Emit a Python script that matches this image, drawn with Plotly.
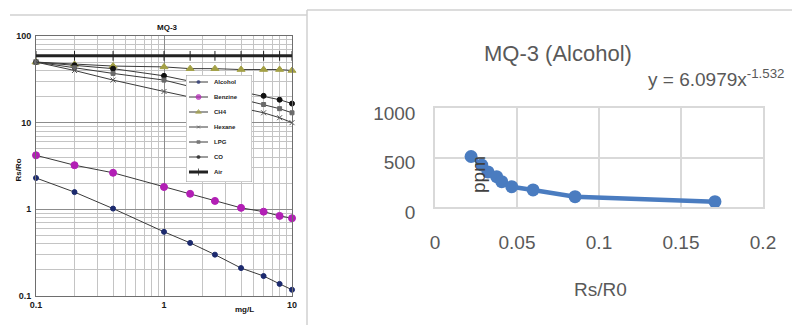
import plotly.graph_objects as go

W, H = 792, 325

# ---------------- data: left panel (MQ-3 datasheet sensitivity curves) ----------------
conc = [0.1, 0.2, 0.4, 1, 1.6, 2.5, 4, 6, 8, 10]
alcohol = [2.3, 1.58, 1.02, 0.55, 0.41, 0.30, 0.21, 0.17, 0.138, 0.118]
benzine = [4.2, 3.23, 2.64, 1.81, 1.51, 1.25, 1.04, 0.94, 0.84, 0.79]
ch4 = [50, 47, 45, 44, 42, 42, 41, 41, 41, 40]
air = [59, 59, 59, 59, 59, 59, 59, 59, 59, 59]
conc_sparse = [0.1, 0.2, 0.4, 1, 6, 8, 10]
co = [50, 46, 42, 34.7, 20.4, 18.4, 16.6]
lpg = [50, 43, 37, 31, 16.2, 14.5, 13]
hexane = [50, 40, 31, 22.9, 13, 11.4, 10]
left_yticks = [0.1, 1, 10, 100]
left_yticklabels = ["0.1", "1", "10", "100"]
left_xticks = [0.1, 1, 10]
left_xticklabels = ["0.1", "1", "10"]

# ---------------- data: right panel (Excel chart) ----------------
rs_ro = [0.022, 0.0285, 0.0323, 0.0376, 0.0407, 0.0468, 0.0598, 0.0854, 0.1707]
ppm = [510, 424, 354, 306, 256, 205, 172, 104, 54]
right_xticks = [0, 0.05, 0.1, 0.15, 0.2]
right_xticklabels = ["0", "0.05", "0.1", "0.15", "0.2"]
right_yticks = [0, 500, 1000]
right_yticklabels = ["0", "500", "1000"]

legend_names = ["Alcohol", "Benzine", "CH4", "Hexane", "LPG", "CO", "Air"]


def px(x):
    return x / W


def py(y):
    return 1 - y / H


LINE = "#3a3a3a"
styles = {
    "Alcohol": dict(symbol="circle", size=5, color="#1c2a6e", lw=1),
    "Benzine": dict(symbol="circle", size=7, color="#b21fb5", lw=1),
    "CH4": dict(symbol="triangle-up", size=7, color="#a3a045", lw=1),
    "Hexane": dict(symbol="x-thin-open", size=5, color="#555555", lw=1),
    "LPG": dict(symbol="square", size=4, color="#6a6a6a", lw=1),
    "CO": dict(symbol="circle", size=5, color="#111111", lw=1),
    "Air": dict(symbol="line-ns-open", size=7, color="#222222", lw=3),
}

series = [
    ("Air", conc, air),
    ("CH4", conc, ch4),
    ("CO", conc_sparse, co),
    ("LPG", conc_sparse, lpg),
    ("Hexane", conc_sparse, hexane),
    ("Benzine", conc, benzine),
    ("Alcohol", conc, alcohol),
]

fig = go.Figure()

for name, xs, ys in series:
    st = styles[name]
    fig.add_trace(go.Scatter(
        x=xs, y=ys, mode="lines+markers", name=name, showlegend=False,
        line=dict(color=LINE if name != "Air" else st["color"], width=st["lw"]),
        marker=dict(symbol=st["symbol"], size=st["size"], color=st["color"],
                    line=dict(color=st["color"], width=1)),
        xaxis="x", yaxis="y", cliponaxis=False,
    ))

# manual compact legend (box + samples) on its own small axes
fig.add_trace(go.Scatter(
    x=[0, 66, 66, 0, 0], y=[0, 0, 107, 107, 0], mode="lines", fill="toself",
    fillcolor="white", line=dict(color="#9a9a9a", width=1), showlegend=False,
    hoverinfo="skip", xaxis="x3", yaxis="y3",
))
for i, name in enumerate(legend_names):
    st = styles[name]
    yy = 7 + 15 * i
    fig.add_trace(go.Scatter(
        x=[3, 12.5, 22], y=[yy, yy, yy], mode="lines+markers", showlegend=False,
        line=dict(color=LINE if name != "Air" else st["color"], width=st["lw"]),
        marker=dict(symbol=st["symbol"], size=[0, max(st["size"] - 2, 3), 0], color=st["color"],
                    line=dict(color=st["color"], width=1)),
        hoverinfo="skip", xaxis="x3", yaxis="y3",
    ))

# right panel data
BLUE = "#4a7cc0"
fig.add_trace(go.Scatter(
    x=rs_ro, y=ppm, mode="lines+markers", showlegend=False,
    line=dict(color=BLUE, width=4.5),
    marker=dict(size=13, color=BLUE),
    xaxis="x2", yaxis="y2", cliponaxis=False,
))

left_font = dict(family="Liberation Sans", size=9, color="#1a1a1a", weight="bold")
right_font = dict(family="Liberation Sans", size=19, color="#595959")

minor_vals = [m * d for d in (0.1, 1, 10) for m in range(2, 10)]

fig.update_layout(
    width=W, height=H,
    margin=dict(l=0, r=0, t=0, b=0, pad=0, autoexpand=False),
    paper_bgcolor="white", plot_bgcolor="white",
    showlegend=False,
    xaxis=dict(
        type="log", range=[-1, 1], domain=[px(36), px(292)], anchor="y",
        tickvals=left_xticks, ticktext=left_xticklabels, tickfont=left_font,
        showgrid=True, gridcolor="#8c8c8c", gridwidth=1,
        showline=True, linecolor="#6e6e6e", linewidth=1, mirror=True,
        ticks="", zeroline=False, automargin=False,
        minor=dict(tickvals=minor_vals, showgrid=True, gridcolor="#c4c4c4", gridwidth=1, ticks=""),
    ),
    yaxis=dict(
        type="log", range=[-1, 2], domain=[py(296), py(36)], anchor="x",
        tickvals=left_yticks, ticktext=left_yticklabels, tickfont=left_font,
        showgrid=True, gridcolor="#8c8c8c", gridwidth=1,
        showline=True, linecolor="#6e6e6e", linewidth=1, mirror=True,
        ticks="", zeroline=False, ticklabelstandoff=2, automargin=False,
        minor=dict(tickvals=minor_vals, showgrid=True, gridcolor="#c4c4c4", gridwidth=1, ticks=""),
    ),
    xaxis2=dict(
        range=[0, 0.2], domain=[px(435), px(763)], anchor="y2",
        tickvals=right_xticks, ticktext=right_xticklabels, tickfont=right_font,
        showgrid=True, gridcolor="#d9d9d9", gridwidth=1.5,
        showline=True, linecolor="#d9d9d9", linewidth=1.5, mirror=True,
        ticks="", zeroline=False, ticklabelstandoff=17, automargin=False,
    ),
    yaxis2=dict(
        range=[0, 1000], domain=[py(207), py(108)], anchor="x2",
        tickvals=right_yticks, ticktext=right_yticklabels, tickfont=right_font,
        showgrid=True, gridcolor="#d9d9d9", gridwidth=1.5,
        showline=True, linecolor="#d9d9d9", linewidth=1.5, mirror=True,
        ticks="", zeroline=False, ticklabelstandoff=14, ticklabelshift=5, automargin=False,
    ),
    xaxis3=dict(range=[0, 66], domain=[px(186), px(252)], anchor="y3",
                visible=False, fixedrange=True, automargin=False),
    yaxis3=dict(range=[107, 0], domain=[py(182), py(75)], anchor="x3",
                visible=False, fixedrange=True, automargin=False),
)

ann = []
bold_small = dict(family="Liberation Sans", size=8, color="#111", weight="bold")
# left panel texts
ann.append(dict(text="MQ-3", x=px(167), y=py(28), font=bold_small))
ann.append(dict(text="Rs/Ro", x=px(17.5), y=py(170), textangle=-90, font=bold_small))
ann.append(dict(text="mg/L", x=px(244), y=py(309), font=bold_small))
# right panel texts
ann.append(dict(text="MQ-3 (Alcohol)", x=px(558), y=py(53),
                font=dict(family="Liberation Sans", size=22, color="#595959")))
ann.append(dict(text="y = 6.0979x<sup>-1.532</sup>", x=px(716), y=py(78),
                font=dict(family="Liberation Sans", size=19, color="#595959")))
ann.append(dict(text="ppm", x=px(478), y=py(174), textangle=-90,
                font=dict(family="Liberation Sans", size=19, color="#404040")))
ann.append(dict(text="Rs/R0", x=px(600), y=py(289),
                font=dict(family="Liberation Sans", size=19, color="#595959")))
for a in ann:
    a.update(xref="paper", yref="paper", xanchor="center", yanchor="middle", showarrow=False)
for i, name in enumerate(legend_names):
    ann.append(dict(text=name, x=26, y=7 + 15 * i, xref="x3", yref="y3", xanchor="left",
                    yanchor="middle", showarrow=False,
                    font=dict(family="Liberation Sans", size=6, color="#222", weight="bold")))
fig.update_layout(annotations=ann)

# panel frames
fig.add_shape(type="line", xref="paper", yref="paper", x0=px(10), x1=px(307), y0=py(15), y1=py(15),
              line=dict(color="#d0d0d0", width=1.5))
fig.add_shape(type="line", xref="paper", yref="paper", x0=px(307), x1=1, y0=py(10), y1=py(10),
              line=dict(color="#d0d0d0", width=1.5))
fig.add_shape(type="line", xref="paper", yref="paper", x0=px(307), x1=px(307), y0=py(10), y1=0,
              line=dict(color="#d0d0d0", width=1.5))

fig.write_html("out.html", config={"displayModeBar": False},
               post_script="document.body.style.margin='0';document.body.style.overflow='hidden';")
